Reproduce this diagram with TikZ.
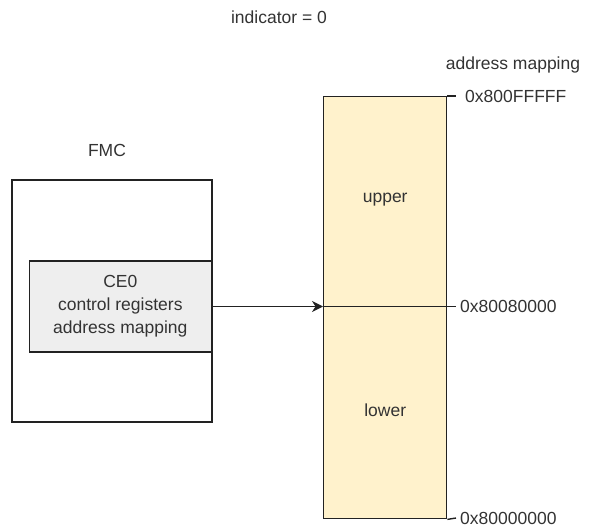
\documentclass[tikz,border=0pt]{standalone}
\usepackage{fontspec}
\setmainfont{Liberation Sans}
\usetikzlibrary{arrows.meta}
\definecolor{txt}{HTML}{333333}
\definecolor{barfill}{HTML}{FFF2CC}
\definecolor{regfill}{HTML}{EEEEEE}
\definecolor{edge}{HTML}{222222}
\begin{document}
\begin{tikzpicture}[x=1pt,y=-1pt,
  every node/.style={font=\fontsize{17.5}{23}\selectfont, text=txt, inner sep=0pt},
  box/.style={draw=edge, line width=1.4pt},
  tick/.style={draw=edge, line width=1.4pt},
  lbl/.style={anchor=west}]
  \useasboundingbox (0,0) rectangle (589,527);

  % title
  \node (ind) at (279,17) {indicator = 0};

  % FMC block with the CE0 register group inside it
  \node (fmclbl) at (107,150) {FMC};
  \draw[box, fill=white] (12,180) rectangle (212,422);
  \node[box, fill=regfill, minimum width=182pt, minimum height=91pt, align=center, anchor=east]
    (ce0) at (212,306.5) {CE0\\control registers\\address mapping};

  % address map bar
  \node[box, fill=barfill, minimum width=123pt, minimum height=422pt, anchor=north west]
    (bar) at (323,96) {};
  \node (upper) at (bar.center |- 0,200) {upper};
  \node (lower) at (bar.center |- 0,410) {lower};

  % boundary ticks
  \coordinate (ttop) at (456,96);
  \coordinate (tmid) at (456,306.5);
  \coordinate (tbot) at (456,518);
  \draw[tick] (bar.north east) -- (ttop);
  \draw[tick] (bar.south east) -- (tbot);
  \draw[tick] (bar.west |- tmid) -- (tmid);

  % address labels
  \node (amap) at (513,65) {address mapping};
  \node[lbl] (atop) at (465,96) {0x800FFFFF};
  \node[lbl] (amid) at (460,306.5) {0x80080000};
  \node[lbl] (abot) at (460,518) {0x80000000};

  % mapping arrow
  \draw[line width=1.4pt, edge, -{Stealth[length=11pt,width=11pt,inset=3.5pt]}]
    (ce0.east) -- (ce0.east -| bar.west);
\end{tikzpicture}
\end{document}
